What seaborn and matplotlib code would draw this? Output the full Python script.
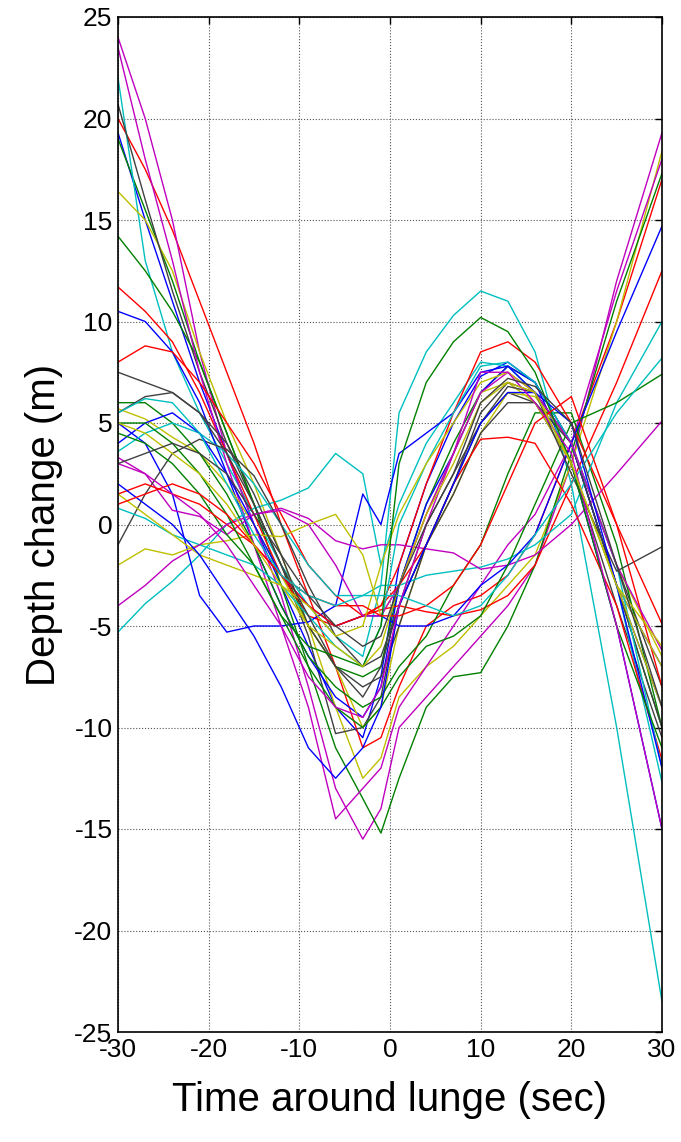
import numpy as np
import pandas as pd
import matplotlib
matplotlib.use("Agg")
import matplotlib.pyplot as plt
import seaborn as sns

# time points (sec) at which values were read
time_s = [-30, -27, -24, -21, -18, -15, -12, -9, -6, -3, -1, 1, 4, 7, 10, 13, 16, 20, 25, 30]

b1 = [19.3, 15, 11, 7, 3.5, 0, -3, -6, -9, -10.5, -7.5, -2, 2, 5, 7.3, 8, 7, 3, -5, -15]
g1 = [19, 15.5, 12, 8, 4.5, 1, -2, -5, -7, -7.5, -7, -3, 1, 4, 6.5, 7.8, 7, 4, -3, -10]
r1 = [20, 17.5, 14.5, 11, 7.5, 4, 0, -3.5, -7, -11, -10.5, -8, -5, -4, -3.5, -2.5, -0.5, 4, 10, 17]
c1 = [22, 13, 8.5, 5.5, 3, 0.5, -2, -4, -5.5, -6.5, -3, 5.5, 8.5, 10.3, 11.5, 11, 8.5, 2, -10, -23.5]
m1 = [24, 20, 15, 8.5, 3.5, 0, -3.5, -8, -13, -15.5, -14, -10, -8.5, -7, -5.5, -4, -2, 3, 12, 19.3]
y1 = [16.4, 15, 12.5, 8.5, 5, 2, -1.5, -5, -9, -12.5, -11.5, -8.5, -7, -6, -4.5, -3, -1.5, 3, 10, 18.4]
k1 = [20.7, 16, 11.5, 7.5, 4, 1, -2, -5.5, -10.3, -10, -8.5, -4, 0, 2.5, 5, 6.5, 6, 3, -4, -10.5]

b2 = [10.5, 10, 8.5, 6, 2.5, -1, -4, -6.5, -8.5, -9.5, -8, -3, 1, 3.5, 6.5, 7.8, 7, 4, -3, -9]
g2 = [14.2, 12.5, 10.5, 8, 4.5, 1, -3, -7, -11, -13.5, -15.2, -12.5, -9, -7.5, -7.3, -5, -2, 3.5, 11, 17.3]
r2 = [11.7, 10.5, 9, 6.5, 3.5, 0.5, -2.5, -4.5, -5, -4.5, -4.2, -4, -4.3, -4.5, -4.2, -3.5, -2, 2, 7, 12.5]
c2 = [-5.3, -3.9, -2.8, -1.5, 0, 0.8, 1.2, 1.8, 3.5, 2.5, -2, 1, 4, 6, 8, 7.8, 6.5, 3, -3, -12.7]
m2 = [23.5, 18, 13, 7.5, 3, -1, -5, -9, -14.5, -13, -12, -9, -7, -5, -3, -1, 0.5, 4, 11.5, 18]
y2 = [5.7, 5.2, 4.3, 3.5, 2, 0, -2.5, -5, -7, -10, -9, -5, -1, 1.5, 4.5, 6.5, 6.3, 4, -2, -6.5]
k2 = [7.5, 7, 6.5, 5.5, 4, 1.5, -1.5, -5, -7, -8, -7.5, -5, -1, 1.5, 4.5, 6, 6, 4, -2, -8]

b3 = [5, 4, 1.5, -3.5, -5.3, -5, -5, -4.8, -4, 1.5, 0, 3.5, 4.5, 5.5, 7.5, 7.8, 6.5, 4, -3, -7]
g3 = [6, 6, 5, 3.5, 1.5, -1, -4, -6.5, -8, -9, -8.5, -7, -5.5, -3, -1, 2.5, 5.5, 5.5, -1, -10]
r3 = [8, 8.8, 8.5, 7, 5, 3, 0.5, -2, -3.5, -4.5, -4, -2, 2, 5.5, 8.5, 9, 8, 5, 0, -8]
c3 = [3.6, 4.5, 5, 4.5, 3.5, 2, 0, -2, -3.5, -3.5, -3, -3, -2.5, -2.3, -2.1, -1.7, -1, 0.5, 6, 10]
m3 = [3.3, 2.5, 0.7, 0.4, -0.5, 0.5, 0.8, 0.3, -0.8, -1.2, -1, -1, -1.2, -1.4, -2.2, -2, -1.5, 0, 2.5, 5.1]
y3 = [-2, -1.2, -1.5, -1, -0.8, -0.5, -0.6, 0, 0.5, -1.5, -4.5, -3, 0.5, 3.5, 6.5, 7, 6, 3, -3, -7]
k3 = [-1, 1.5, 3.5, 4.2, 3.7, 2.4, 0, -3, -5.5, -7, -6.5, -4, -1, 2, 5.5, 7, 6.5, 4, -3, -10]

b4 = [4, 5, 5.5, 4.5, 2.5, 0, -2.5, -4, -5, -4.5, -4.5, -5, -5, -4.5, -3, -2, -0.5, 4, 9.5, 14.7]
g4 = [4.5, 4, 3, 1.5, -0.5, -2, -4.5, -7, -9, -10, -9, -7.5, -6, -5.5, -4.5, -2, 1, 5, 6, 7.4]
r4 = [1.5, 2, 1.5, 1, 0, -1, -2.5, -4, -5, -4.5, -4, -3, -1, 2, 4.2, 4.3, 4, 1, -4, -11.6]
c4 = [0.8, 0.3, -0.5, -1, -1.5, -2, -3, -4.5, -6, -7, -5, 0, 3, 5.5, 7.8, 8, 7, 4, -2, -12]
m4 = [-4, -3, -1.8, -1, 0, 0.5, 0.7, 0, -2, -4.5, -4.5, -3, 0.5, 3.5, 6.5, 7.5, 6.5, 4, -2, -6.2]
y4 = [1.5, 0.5, -0.5, -1.5, -2, -2.5, -3, -4, -5.5, -5, -2, 0.5, 3, 5, 7, 7.5, 6.5, 3, -3, -6]
k4 = [5.5, 6.3, 6.5, 5.5, 3.5, 1, -2, -4.5, -7, -8.5, -7, -4, -1, 2, 5, 6.8, 6.5, 2.5, -2.3, -1.1]

b5 = [2, 1, 0, -1.5, -3.5, -5.5, -8, -11, -12.5, -11, -9, -4, -1, 2, 5, 6.5, 6.5, 5, -3, -12]
g5 = [5, 5, 4, 2.5, 0.5, -2, -4.5, -6, -6.5, -7, -5, 3, 7, 9, 10.2, 9.5, 7.5, 3, -5, -11]
r5 = [1, 1.5, 2, 1.5, 0.5, -1, -2.5, -3.5, -4, -4, -4.5, -4.5, -4, -3, -1, 2, 5, 6.3, 0, -4.9]
c5 = [5.5, 6.2, 6, 4.5, 2, -0.5, -2.5, -3.5, -4, -3.5, -3.5, -3.5, -4, -4.5, -4, -2.5, -0.5, 2, 5.5, 8.2]
m5 = [3, 2.5, 1.5, 0.5, -1, -3, -5, -7.5, -9, -9.5, -8, -4, 0, 3.5, 7.5, 7.5, 6, 3.5, -5, -15]
y5 = [5, 4.5, 3.5, 2.5, 1, -1, -3, -5, -6, -7, -6, -3, 0.5, 3, 6, 7, 6.5, 3, -3, -9]
k5 = [3, 3.5, 4, 3.5, 2.5, 0.5, -1.5, -3.5, -5, -6, -5.5, -3, 0, 2.5, 6, 7.2, 6.8, 5, -2, -9]

traces = [b1, g1, r1, c1, m1, y1, k1,
          b2, g2, r2, c2, m2, y2, k2,
          b3, g3, r3, c3, m3, y3, k3,
          b4, g4, r4, c4, m4, y4, k4,
          b5, g5, r5, c5, m5, y5, k5]

matlab_cycle = [(0, 0, 1), (0, 0.5, 0), (1, 0, 0), (0, 0.75, 0.75),
                (0.75, 0, 0.75), (0.75, 0.75, 0), (0.25, 0.25, 0.25)]

rows = []
for i, tr in enumerate(traces):
    for t, v in zip(time_s, tr):
        rows.append({"t": t, "depth": v, "trace": i})
df = pd.DataFrame(rows)
palette = [matlab_cycle[i % 7] for i in range(len(traces))]

sns.set_style("white")
plt.rcParams["font.family"] = ["Liberation Sans", "DejaVu Sans"]
plt.rcParams["axes.unicode_minus"] = False
plt.rcParams["text.color"] = "black"
plt.rcParams["axes.labelcolor"] = "black"

fig = plt.figure(figsize=(6.81, 11.42), dpi=100)
ax = fig.add_axes([118 / 681, 1 - 1032 / 1142, 544 / 681, 1015 / 1142])

sns.lineplot(data=df, x="t", y="depth", hue="trace", palette=palette,
             estimator=None, sort=False, legend=False, linewidth=1.0, ax=ax)

ax.set_xlim(-30, 30)
ax.set_ylim(-25, 25)
ax.set_xticks(range(-30, 31, 10))
ax.set_yticks(range(-25, 26, 5))
ax.grid(True, linestyle=":", color="#555555", linewidth=0.8)
ax.set_axisbelow(True)
for s in ax.spines.values():
    s.set_color("black")
    s.set_linewidth(1.2)
    s.set_visible(True)
ax.tick_params(direction="in", length=5, width=1, top=True, right=True,
               labelsize=19, colors="black", pad=4)
ax.set_xlabel("Time around lunge (sec)", fontsize=29, labelpad=14, color="black")
ax.set_ylabel("Depth change (m)", fontsize=29, labelpad=8, color="black")

fig.savefig("out.png", dpi=100)
